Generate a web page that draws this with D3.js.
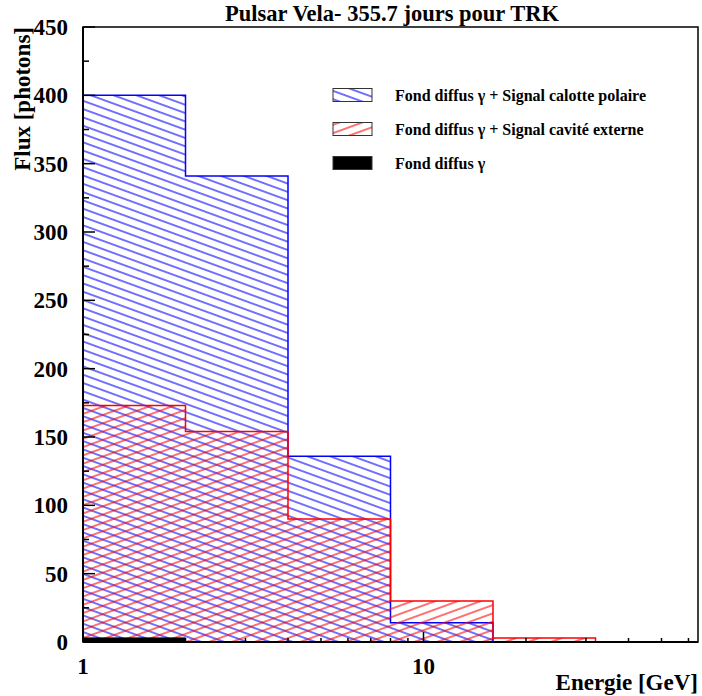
<!doctype html>
<html>
<head>
<meta charset="utf-8">
<style>
body { margin:0; background:#fff; }
text { font-family:"Liberation Serif", "Times New Roman", serif; font-weight:bold; fill:#000; }
</style>
<script src="https://d3js.org/d3.v7.min.js"></script>
</head>
<body>
<script>

// bin edges in GeV (log axis) and the three histograms
var binEdges = [1, 2, 4, 8, 16, 32, 64];
var polarCap = [400, 341, 136, 14, 0, 0];     // Fond diffus + Signal calotte polaire
var outerGap = [173, 154, 90, 30, 3, 0];      // Fond diffus + Signal cavite externe
var background = [3, 0, 0, 0, 0, 0];          // Fond diffus
var yTicks = [0, 50, 100, 150, 200, 250, 300, 350, 400, 450];
var xTickLabels = [1, 10];
var legendLabels = ["Fond diffus \u03b3 + Signal calotte polaire",
                    "Fond diffus \u03b3 + Signal cavit\u00e9 externe",
                    "Fond diffus \u03b3"];

var width = 702, height = 696;
var padL = 83, padR = 698, padT = 27, padB = 642;

var svg = d3.select("body").append("svg")
    .attr("width", width)
    .attr("height", height);

var x = d3.scaleLog().domain([1, 64]).range([padL, padR]);
var y = d3.scaleLinear().domain([0, 450]).range([padB, padT]);

// hatch patterns
var defs = svg.append("defs");
function hatch(id, color, angle) {
  var p = defs.append("pattern")
      .attr("id", id)
      .attr("patternUnits", "userSpaceOnUse")
      .attr("width", 20).attr("height", 7.8)
      .attr("patternTransform", "rotate(" + angle + ")");
  p.append("line")
      .attr("x1", 0).attr("x2", 20).attr("y1", 3.9).attr("y2", 3.9)
      .attr("stroke", color).attr("stroke-width", 1.1);
}
hatch("hatchBlue", "#0000ff", 20);
hatch("hatchRed", "#ff0000", -20);

function stepPath(vals) {
  var pts = [[x(binEdges[0]), y(0)]];
  vals.forEach(function (v, i) {
    pts.push([x(binEdges[i]), y(v)]);
    pts.push([x(binEdges[i + 1]), y(v)]);
  });
  pts.push([x(binEdges[binEdges.length - 1]), y(0)]);
  return d3.line()(pts);
}

// frame
svg.append("rect")
    .attr("x", padL).attr("y", padT)
    .attr("width", padR - padL).attr("height", padB - padT)
    .attr("fill", "none").attr("stroke", "#000").attr("stroke-width", 1.5);

svg.append("path").attr("d", stepPath(polarCap))
    .attr("fill", "url(#hatchBlue)").attr("stroke", "#0000ff").attr("stroke-width", 1.5);
svg.append("path").attr("d", stepPath(outerGap))
    .attr("fill", "url(#hatchRed)").attr("stroke", "#ff0000").attr("stroke-width", 1.5);
svg.append("path").attr("d", stepPath(background))
    .attr("fill", "#000").attr("stroke", "#000").attr("stroke-width", 1);

// y axis: ticks inside the frame
var yMinor = d3.range(0, 451, 25);
svg.append("g").selectAll("line").data(yMinor).enter().append("line")
    .attr("x1", padL)
    .attr("x2", function (d) { return padL + (d % 50 === 0 ? 12 : 6); })
    .attr("y1", function (d) { return y(d); })
    .attr("y2", function (d) { return y(d); })
    .attr("stroke", "#000").attr("stroke-width", 1.5);
svg.append("g").selectAll("text").data(yTicks).enter().append("text")
    .attr("x", 68)
    .attr("y", function (d) { return y(d); })
    .attr("dy", "0.35em")
    .attr("text-anchor", "end")
    .attr("font-size", 23)
    .text(function (d) { return d; });

// x axis (log)
var xMinor = [2, 3, 4, 5, 6, 7, 8, 9, 10, 20, 30, 40, 50, 60];
svg.append("g").selectAll("line").data(xMinor).enter().append("line")
    .attr("x1", function (d) { return x(d); })
    .attr("x2", function (d) { return x(d); })
    .attr("y1", padB)
    .attr("y2", function (d) { return padB - (d === 10 ? 10 : 4); })
    .attr("stroke", "#000").attr("stroke-width", 1.5);
svg.append("g").selectAll("text").data(xTickLabels).enter().append("text")
    .attr("x", function (d) { return x(d); })
    .attr("y", 674)
    .attr("text-anchor", "middle")
    .attr("font-size", 23)
    .text(function (d) { return d; });

// axis lines
svg.append("line").attr("x1", padL).attr("x2", padL).attr("y1", padT).attr("y2", padB)
    .attr("stroke", "#000").attr("stroke-width", 2);
svg.append("line").attr("x1", padL).attr("x2", padR).attr("y1", padB).attr("y2", padB)
    .attr("stroke", "#000").attr("stroke-width", 2);

// titles
svg.append("text").attr("x", 392).attr("y", 21)
    .attr("text-anchor", "middle").attr("font-size", 22.5)
    .text("Pulsar Vela- 355.7 jours pour TRK");
svg.append("text").attr("x", padR).attr("y", 690)
    .attr("text-anchor", "end").attr("font-size", 23)
    .text("Energie [GeV]");
svg.append("text")
    .attr("transform", "translate(30," + padT + ") rotate(-90)")
    .attr("text-anchor", "end").attr("font-size", 23)
    .text("Flux [photons]");

// legend
var legendFill = ["url(#hatchBlue)", "url(#hatchRed)", "#000"];
var lg = svg.append("g").selectAll("g").data(legendLabels).enter().append("g")
    .attr("transform", function (d, i) { return "translate(333," + (95 + i * 34) + ")"; });
lg.append("rect")
    .attr("x", 0).attr("y", -6.5).attr("width", 39).attr("height", 13)
    .attr("fill", function (d, i) { return legendFill[i]; })
    .attr("stroke", "#333").attr("stroke-width", 1);
lg.append("text")
    .attr("x", 62).attr("y", 5.5)
    .attr("font-size", 16)
    .text(function (d) { return d; });

</script>
</body>
</html>
